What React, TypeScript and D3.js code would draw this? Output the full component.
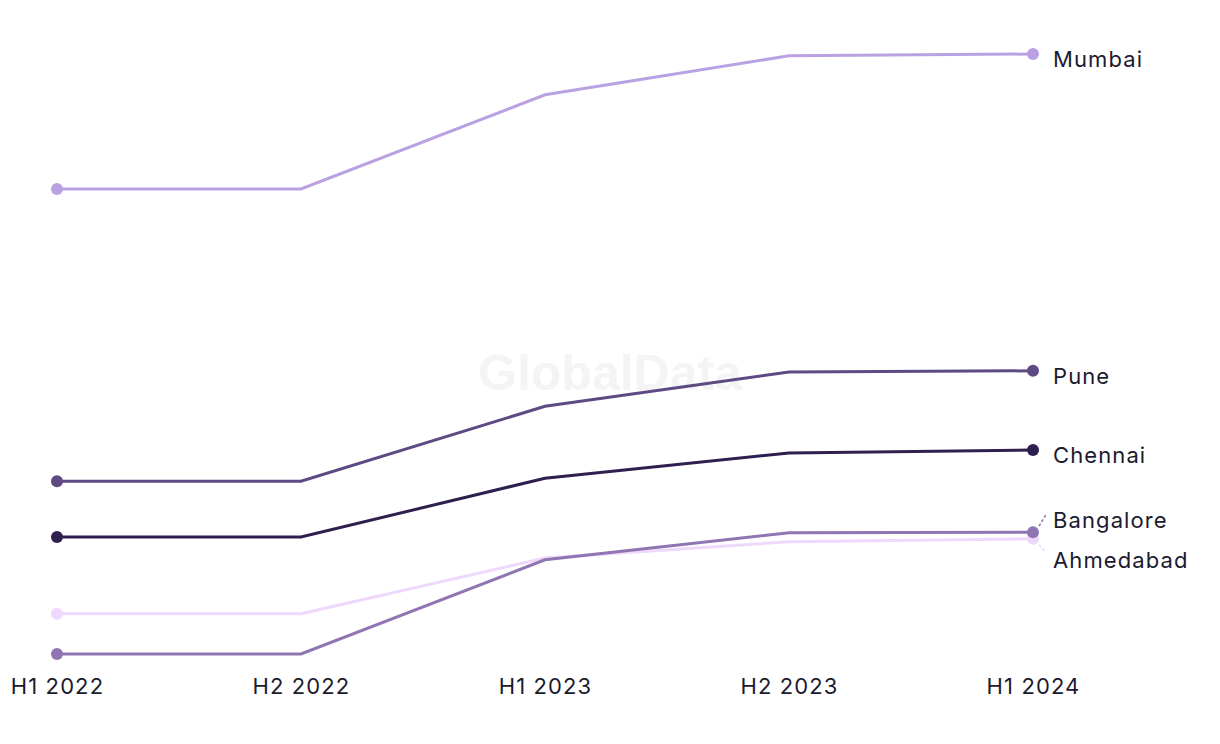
import React from "react";
import * as d3 from "d3";

const periods = ["H1 2022", "H2 2022", "H1 2023", "H2 2023", "H1 2024"];
const cities = ["Mumbai", "Pune", "Chennai", "Ahmedabad", "Bangalore"];
const mumbai = [177.5, 177.5, 193.2, 199.7, 200];
const pune = [128.8, 128.8, 141.3, 147, 147.2];
const chennai = [119.5, 119.5, 129.3, 133.5, 134];
const ahmedabad = [106.7, 106.7, 116, 118.7, 119.2];
const bangalore = [100, 100, 115.7, 120.2, 120.3];
const colors = ["#b9a1e2", "#5e4a82", "#2e1f4f", "#eed8fc", "#8f75b1"];

const W = 1220;
const H = 744;

export default function App() {
  const seriesVals = [mumbai, pune, chennai, ahmedabad, bangalore];
  const x = d3.scalePoint<string>().domain(periods).range([57, 1033]);
  const y = d3.scaleLinear().domain([100, 200]).range([654, 54]);
  const line = d3
    .line<number>()
    .x((_, i) => x(periods[i]) as number)
    .y((d) => y(d));

  const last = periods[periods.length - 1];
  const lx = x(last) as number;
  const items = cities.map((c, i) => ({
    name: c,
    color: colors[i],
    py: y(seriesVals[i][seriesVals[i].length - 1]),
    ly: y(seriesVals[i][seriesVals[i].length - 1]) + 5,
  }));
  const sorted = [...items].sort((a, b) => a.ly - b.ly);
  const gap = 40;
  for (let iter = 0; iter < 20; iter++) {
    for (let i = 0; i < sorted.length - 1; i++) {
      const a = sorted[i];
      const b = sorted[i + 1];
      if (b.ly - a.ly < gap) {
        const mid = (a.ly + b.ly) / 2;
        a.ly = mid - gap / 2;
        b.ly = mid + gap / 2;
      }
    }
  }

  const font = "Inter, 'Noto Sans', sans-serif";

  return (
    <svg width={W} height={H} style={{ position: "absolute", left: 0, top: 0, background: "#fff" }}>
      <text
        x={610}
        y={390}
        textAnchor="middle"
        fontFamily="'Liberation Sans', Arial, sans-serif"
        fontWeight={700}
        fontSize={50}
        fill="#f4f4f4"
      >
        GlobalData
      </text>
      {cities.map((c, i) => (
        <path key={c} d={line(seriesVals[i]) || ""} fill="none" stroke={colors[i]} strokeWidth={3} />
      ))}
      {cities.map((c, i) =>
        seriesVals[i].map((v, j) =>
          j === 0 || j === periods.length - 1 ? (
            <circle key={c + j} cx={x(periods[j]) as number} cy={y(v)} r={6} fill={colors[i]} />
          ) : null
        )
      )}
      {items.map((it) => {
        const moved = Math.abs(it.ly - (it.py + 5)) > 1;
        const up = it.ly < it.py + 5;
        return (
          <g key={it.name}>
            {moved && (
              <line
                x1={lx + 6}
                y1={it.py + (up ? -6 : 6)}
                x2={lx + 13}
                y2={it.ly - (up ? 6 : 8)}
                stroke={it.color}
                strokeWidth={1.5}
                strokeDasharray="3,2"
              />
            )}
            <text
              x={lx + 20}
              y={it.ly}
              dy="0.35em"
              fontFamily={font}
              fontSize={22}
              letterSpacing={1.1}
              fill="#1b1b2f"
            >
              {it.name}
            </text>
          </g>
        );
      })}
      {periods.map((p) => (
        <text
          key={p}
          x={(x(p) as number) + 0.5}
          y={694}
          textAnchor="middle"
          fontFamily={font}
          fontSize={22}
          letterSpacing={1.1}
          fill="#1b1b2f"
        >
          {p}
        </text>
      ))}
    </svg>
  );
}
